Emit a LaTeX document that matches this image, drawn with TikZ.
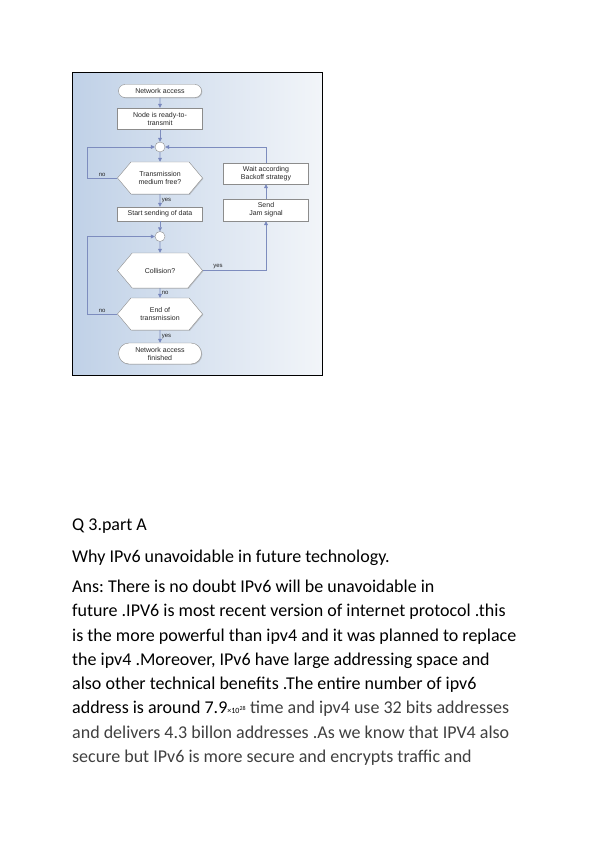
\documentclass[tikz,border=0pt]{standalone}
\usepackage{fontspec}
\setmainfont{Carlito}
\newfontfamily\chartfont{Liberation Sans}
\usetikzlibrary{arrows.meta, positioning, calc, shapes.misc, shapes.symbols, shadows}
\definecolor{flowline}{RGB}{125,140,190}
\definecolor{flowtip}{RGB}{105,122,190}
\definecolor{boxline}{RGB}{140,140,140}
\definecolor{bgleft}{RGB}{192,209,231}
\definecolor{bgright}{RGB}{242,245,249}
\definecolor{bodygray}{RGB}{64,64,64}
\frenchspacing

\begin{document}
\begin{tikzpicture}[x=1pt, y=-1pt,
    every node/.style={font=\chartfont\fontsize{7}{8}\selectfont, text=black!85, align=center, inner sep=1pt},
    boxshade/.style={drop shadow={shadow xshift=0.8pt, shadow yshift=-0.8pt, opacity=0.35}},
    procbox/.style={rectangle, draw=boxline, fill=white, boxshade, minimum width=85pt, minimum height=#1},
    procbox/.default=21pt,
    termbox/.style={rounded rectangle, draw=boxline, fill=white, boxshade, minimum width=85pt, minimum height=#1},
    testbox/.style={signal, signal to=west and east, signal pointer angle=100, draw=boxline, fill=white, boxshade, minimum width=85pt, minimum height=#1},
    joint/.style={circle, draw=boxline, fill=white, minimum size=10pt, inner sep=0pt},
    flow/.style={draw=flowline, line width=0.7pt, -{Triangle[length=4pt, width=3.8pt, fill=flowtip]}},
    lbl/.style={font=\chartfont\fontsize{6}{7}\selectfont, inner sep=1.5pt},
    body/.style={font=\fontsize{18}{21}\selectfont, text=black, anchor=base west, inner sep=0pt, align=left}]
    \useasboundingbox (0,0) rectangle (596,842);
    \fill[white] (0,0) rectangle (596,842);
    % picture frame
    \fill[left color=bgleft, right color=bgright] (73,73) rectangle (322,375);
    \draw[line width=1.2pt] (72.5,72.5) rectangle (322.5,375.5);
    % flow chart
    \node[termbox=13pt] (access) at (160,91) {Network access};
    \node[procbox] (ready) at (160,118.5) {Node is ready-to-\\transmit};
    \node[joint] (j1) at (160,147) {};
    \node[testbox=32pt] (free) at (160,178) {Transmission\\medium free?};
    \node[procbox=14pt] (start) at (160,214) {Start sending of data};
    \node[joint] (j2) at (160,236.5) {};
    \node[testbox=35pt] (coll) at (160,270.5) {Collision?};
    \node[testbox=32pt] (finish) at (160,314) {End of\\transmission};
    \node[termbox=21pt] (done) at (160,353.5) {Network access\\finished};
    \node[procbox] (wait) at (266,173.5) {Wait according\\Backoff strategy};
    \node[procbox=22pt] (jam) at (266,210) {Send\\Jam signal};
    \coordinate (loopA) at (87,147);
    \coordinate (loopB) at (87,236.5);
    \draw[flow] (access) -- (ready);
    \draw[flow] (ready) -- (j1);
    \draw[flow] (j1) -- (free);
    \draw[flow] (free.west) -| node[lbl, above, pos=0.25] {no} (loopA) -- (j1.west);
    \draw[flow] (free) -- node[lbl, right] {yes} (start);
    \draw[flow] (start) -- (j2);
    \draw[flow] (j2) -- (coll);
    \draw[flow] (coll.east) -| node[lbl, above, pos=0.12] {yes} (jam.south);
    \draw[flow] (coll) -- node[lbl, right] {no} (finish);
    \draw[flow] (finish.west) -| node[lbl, above, pos=0.25] {no} (loopB) -- (j2.west);
    \draw[flow] (finish) -- node[lbl, right] {yes} (done);
    \draw[flow] (jam) -- (wait);
    \draw[flow] (wait.north) |- (j1.east);
    % text below
    \node[body] (q) at (72,530) {Q 3.part A};
    \node[body] (why) at (72,562) {Why IPv6 unavoidable in future technology.};
    \node[body] (ans1) at (72,592.5) {Ans: There is no doubt IPv6 will be unavoidable in};
    \node[body] (ans2) at (72,616.75) {future .IPV6 is most recent version of internet protocol .this};
    \node[body] (ans3) at (72,641) {is the more powerful than ipv4 and it was planned to replace};
    \node[body] (ans4) at (72,665.25) {the ipv4 .Moreover, IPv6 have large addressing space and};
    \node[body] (ans5) at (72,689.5) {also other technical benefits .The entire number of ipv6};
    \node[body] (ans6) at (72,713.75) {address is around 7.9{\fontsize{8}{9}\selectfont ×10\textsuperscript{28}} \textcolor{bodygray}{time and ipv4 use 32 bits addresses}};
    \node[body, text=bodygray] (ans7) at (72,738) {and delivers 4.3 billon addresses .As we know that IPV4 also};
    \node[body, text=bodygray] (ans8) at (72,762.25) {secure but IPv6 is more secure and encrypts traffic and};
\end{tikzpicture}
\end{document}
